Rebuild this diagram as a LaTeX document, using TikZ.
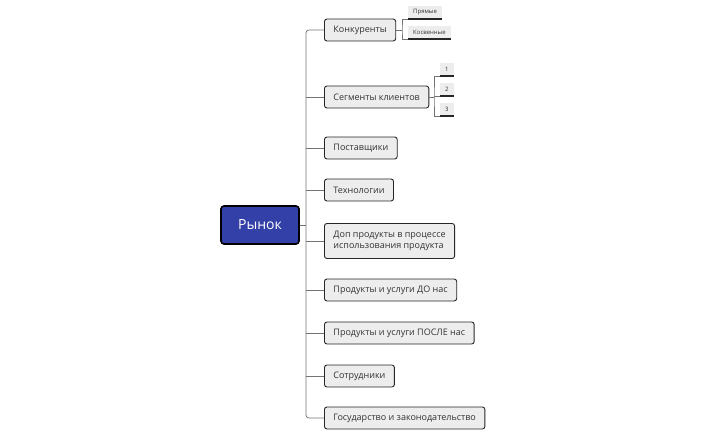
\documentclass[tikz,border=0pt]{standalone}
\usepackage{fontspec}
\setmainfont{Open Sans}
\begin{document}
\begin{tikzpicture}[x=1pt,y=-1pt,
 ch/.style={draw=black!85,line width=0.9pt,rounded corners=2.5pt,fill=black!7,anchor=west,inner xsep=9pt,inner ysep=0pt,minimum height=22pt,font=\fontsize{9}{11}\selectfont,text=black!80,align=left},
 lf/.style={fill=black!7,anchor=south west,inner xsep=5pt,inner ysep=0pt,minimum height=13pt,font=\fontsize{6}{7}\selectfont,text=black!80},
 ul/.style={line width=1.3pt,black!85},
 ln/.style={draw=black!55,line width=0.7pt}]
\useasboundingbox (0,0) rectangle (704,436);
\node[draw=black,line width=1.6pt,rounded corners=3pt,fill={rgb,255:red,51;green,64;blue,168},text=white,minimum width=78pt,minimum height=38pt,font=\fontsize{14}{16}\selectfont] (root) at (260,225) {Рынок};
\node[ch] (a) at (324,30) {Конкуренты};
\node[ch] (b) at (324,97) {Сегменты клиентов};
\node[ch] (c) at (324,148) {Поставщики};
\node[ch] (d) at (324,190) {Технологии};
\node[ch,minimum height=35pt] (e) at (324,241) {Доп продукты в процессе\\использования продукта};
\node[ch] (f) at (324,290) {Продукты и услуги ДО нас};
\node[ch] (g) at (324,333) {Продукты и услуги ПОСЛЕ нас};
\node[ch] (h) at (324,376) {Сотрудники};
\node[ch] (i) at (324,418) {Государство и законодательство};
\coordinate (t) at (306,225);
\draw[ln] (root.east) -- (t);
\draw[ln,rounded corners=3pt] (a.west) -| (t) |- (i.west);
\foreach \n in {b,c,d,e,f,g,h} \draw[ln] (\n.west) -- (306,0 |- \n.west);
% leaves
\node[lf] (p1) at (408,19) {Прямые};
\node[lf] (p2) at (408,39) {Косвенные};
\draw[ul] (p1.south west) -- (p1.south east);
\draw[ul] (p2.south west) -- (p2.south east);
\draw[ln] (a.east) -- (402,30);
\draw[ln] (p1.south west) -| (402,30) |- (p2.south west);
\node[lf] (s1) at (440,76) {1};
\node[lf] (s2) at (440,96) {2};
\node[lf] (s3) at (440,116) {3};
\foreach \n in {s1,s2,s3} \draw[ul] (\n.south west) -- (\n.south east);
\draw[ln] (b.east) -- (434,97);
\draw[ln] (s1.south west) -| (434,97) |- (s3.south west);
\draw[ln] (s2.south west) -- (434,96);
\end{tikzpicture}
\end{document}
